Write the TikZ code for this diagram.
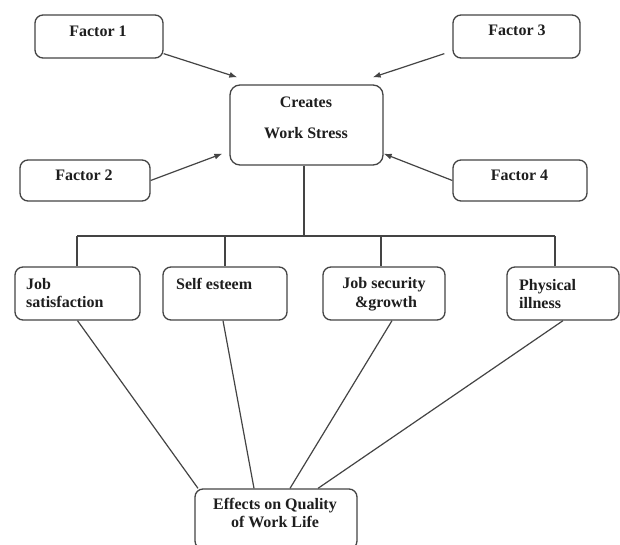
\documentclass[tikz,border=0pt]{standalone}
\usepackage{fontspec}
\setmainfont{Liberation Serif}
\usetikzlibrary{arrows.meta,calc}

\definecolor{edgec}{HTML}{444444}
\definecolor{inkc}{HTML}{1E1E1E}

\tikzset{
  box/.style={draw=edgec, line width=1.3pt, rounded corners=8pt, inner sep=0pt, fill=white},
  lbl/.style={font=\bfseries\fontsize{16}{18.5}\selectfont, text=inkc, inner sep=0pt},
  link/.style={draw=edgec, line width=1.2pt},
  feed/.style={link, -{Latex[length=8pt,width=6pt]}}
}

\begin{document}
\begin{tikzpicture}[x=1pt,y=-1pt]
  \useasboundingbox[fill=white] (0,0) rectangle (620,545);

  % causes and the central box
  \node[box, minimum width=128, minimum height=43] (f1) at (99,36.5) {};
  \node[box, minimum width=127, minimum height=43] (f3) at (516.5,36.5) {};
  \node[box, minimum width=130, minimum height=41] (f2) at (85,180.5) {};
  \node[box, minimum width=134, minimum height=41] (f4) at (520,180.5) {};
  \node[box, rounded corners=10pt, minimum width=153, minimum height=80] (ws) at (306.5,125) {};

  \node[lbl] (f1t) at (98,31) {Factor 1};
  \node[lbl] (f3t) at (517,30) {Factor 3};
  \node[lbl] (f2t) at (84,175) {Factor 2};
  \node[lbl] (f4t) at (519.5,175) {Factor 4};
  \node[lbl, align=center] (wst) at (306,117.5) {Creates\\[12.5pt]Work Stress};

  % effect boxes
  \node[box, minimum width=125, minimum height=53] (js) at (77.5,293.5) {};
  \node[box, minimum width=124, minimum height=53] (se) at (225,293.5) {};
  \node[box, minimum width=122, minimum height=53] (jg) at (384,293.5) {};
  \node[box, minimum width=112, minimum height=53] (ph) at (563,293.5) {};
  \node[box, minimum width=162, minimum height=60] (eq) at (276,519) {};

  \node[lbl, align=left, anchor=west] (jst) at (26,293) {Job\\satisfaction};
  \node[lbl, anchor=west] (set) at (176,284) {Self esteem};
  \node[lbl, align=center] (jgt) at (384,294) {Job security\\\ \&growth};
  \node[lbl, align=left, anchor=west] (pht) at (519,294) {Physical\\illness};
  \node[lbl, align=center] (eqt) at (275,513) {Effects on Quality\\of Work Life};

  % arrows into the central box
  \draw[feed] ($(f1.south east)+(0,-5)$) -- ($(ws.north west)+(8,-7)$);
  \draw[feed] (f2.east) -- ($(ws.south west)+(-7,-12)$);
  \draw[feed] ($(f3.south west)+(-8,-5)$) -- ($(ws.north east)+(-11,-7)$);
  \draw[feed] (f4.west) -- ($(ws.south east)+(0,-12)$);

  % branching tree below the central box
  \coordinate (busL) at (77,236);
  \coordinate (busR) at (555,236);
  \coordinate (d3) at (381,236);
  \coordinate (top) at ($(ws.south)+(-2.5,0)$);
  \draw[link] (top) -- (top |- busL);
  \draw[link] (busL) -- (busR);
  \draw[link] (busL) -- (busL |- js.north);
  \draw[link] (se.north |- busL) -- (se.north);
  \draw[link] (d3) -- (d3 |- jg.north);
  \draw[link] (busR) -- (busR |- ph.north);

  % lines converging on the outcome box
  \draw[link] (js.south) -- ($(eq.north)+(-78,0)$);
  \draw[link] ($(se.south)+(-2,0)$) -- ($(eq.north)+(-22,0)$);
  \draw[link] ($(jg.south)+(8,0)$) -- ($(eq.north)+(14,0)$);
  \draw[link] (ph.south) -- ($(eq.north)+(42,0)$);
\end{tikzpicture}
\end{document}
